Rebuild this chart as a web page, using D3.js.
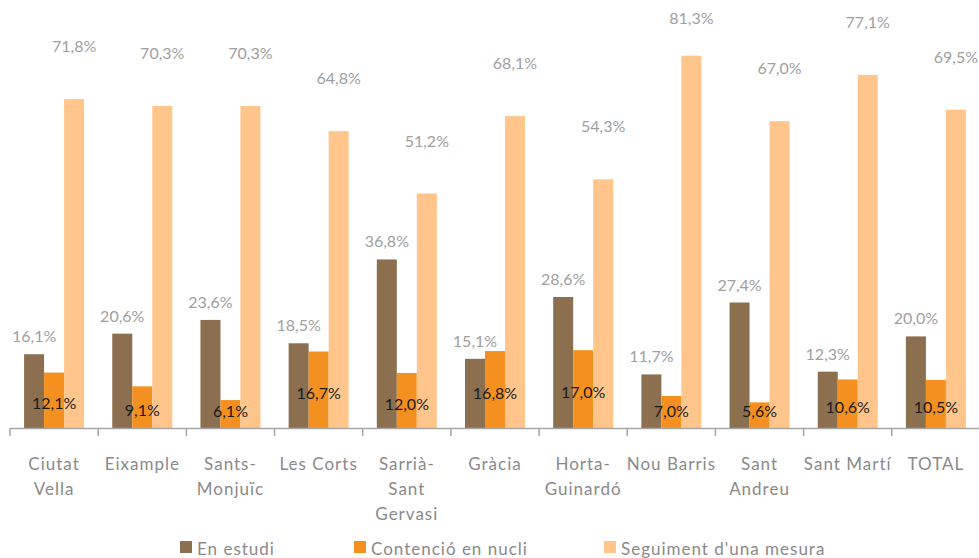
<!DOCTYPE html>
<html><head><meta charset="utf-8">
<script src="https://cdn.jsdelivr.net/npm/d3@7/dist/d3.min.js"></script>
<style>body{margin:0;background:#fff}svg{display:block}</style>
</head><body>
<svg id="c" width="979" height="558"></svg>
<script>
const categories = [["Ciutat","Vella"],["Eixample"],["Sants-","Monjuïc"],["Les Corts"],["Sarrià-","Sant","Gervasi"],["Gràcia"],["Horta-","Guinardó"],["Nou Barris"],["Sant","Andreu"],["Sant Martí"],["TOTAL"]];
const seriesNames = ["En estudi","Contenció en nucli","Seguiment d'una mesura"];
const enEstudi = [16.1,20.6,23.6,18.5,36.8,15.1,28.6,11.7,27.4,12.3,20.0];
const contencio = [12.1,9.1,6.1,16.7,12.0,16.8,17.0,7.0,5.6,10.6,10.5];
const seguiment = [71.8,70.3,70.3,64.8,51.2,68.1,54.3,81.3,67.0,77.1,69.5];
const colors = ["#8b6f4e","#f39020","#ffc58a"];

const svg = d3.select("#c");
const font = "Lato, 'Open Sans', sans-serif";
const keys = categories.map((c,i)=>i);
const x = d3.scaleBand().domain(keys).range([10,980]).paddingInner(0).paddingOuter(0);
const x1 = d3.scaleBand().domain([0,1,2]).range([0,60]);
const groupOff = (x.bandwidth()-60)/2;
const y = d3.scaleLinear().domain([0,90]).range([428, 428-90*4.58]);
const fmt = v => v.toFixed(1).replace(".", ",") + "%";
const series = [enEstudi, contencio, seguiment];

// bars
series.forEach((vals,s)=>{
  svg.append("g").selectAll("rect").data(vals).join("rect")
    .attr("x",(d,i)=>x(i)+groupOff+x1(s))
    .attr("width",x1.bandwidth())
    .attr("y",d=>y(d))
    .attr("height",d=>y(0)-y(d))
    .attr("fill",colors[s]);
});

// axis
const axis = d3.axisBottom(x).tickSize(0).tickFormat("");
const ag = svg.append("g").attr("transform","translate(0,428)").call(axis);
ag.select(".domain").attr("stroke","#a6a6a6").attr("stroke-width",1.5);
ag.selectAll(".tick").remove();
ag.selectAll("line.t").data(d3.range(12)).join("line").attr("class","t")
  .attr("x1",i=>i<11?x(i):x(10)+x.bandwidth()).attr("x2",i=>i<11?x(i):x(10)+x.bandwidth())
  .attr("y1",0).attr("y2",8).attr("stroke","#a6a6a6").attr("stroke-width",1.5);

// category labels
const cl = svg.append("g").selectAll("text").data(categories).join("text")
  .attr("x",(d,i)=>x(i)+x.bandwidth()/2).attr("y",470)
  .attr("text-anchor","middle").attr("font-family",font).attr("font-size",17)
  .attr("letter-spacing",1).attr("fill","#8a8a8a");
cl.each(function(d){
  d3.select(this).selectAll("tspan").data(d).join("tspan")
    .attr("x",d3.select(this).attr("x")).attr("dy",(t,j)=>j?25:0).text(t=>t);
});

// value labels
const lab = (vals,s,yf,col)=>svg.append("g").selectAll("text").data(vals).join("text")
  .attr("x",(d,i)=>x(i)+groupOff+x1(s)+x1.bandwidth()/2)
  .attr("y",yf).attr("text-anchor","middle").attr("font-family",font).attr("font-size",16)
  .attr("fill",col).text(fmt);
lab(enEstudi,0,d=>y(d)-12,"#a0a0a0");
lab(contencio,1,d=>Math.min((y(d)+y(0))/2+9,417),"#1a1a1a");
lab(seguiment,2,d=>Math.max(y(d)-47,24),"#a0a0a0");

// legend
const legX = [180,354,604];
const lg = svg.append("g").selectAll("g").data(seriesNames).join("g")
  .attr("transform",(d,i)=>`translate(${legX[i]},541)`);
lg.append("rect").attr("width",12).attr("height",12).attr("fill",(d,i)=>colors[i]);
lg.append("text").attr("x",17).attr("y",14).attr("font-family",font).attr("font-size",17)
  .attr("letter-spacing",1).attr("fill","#8a8a8a").text(d=>d);
</script>
</body></html>
